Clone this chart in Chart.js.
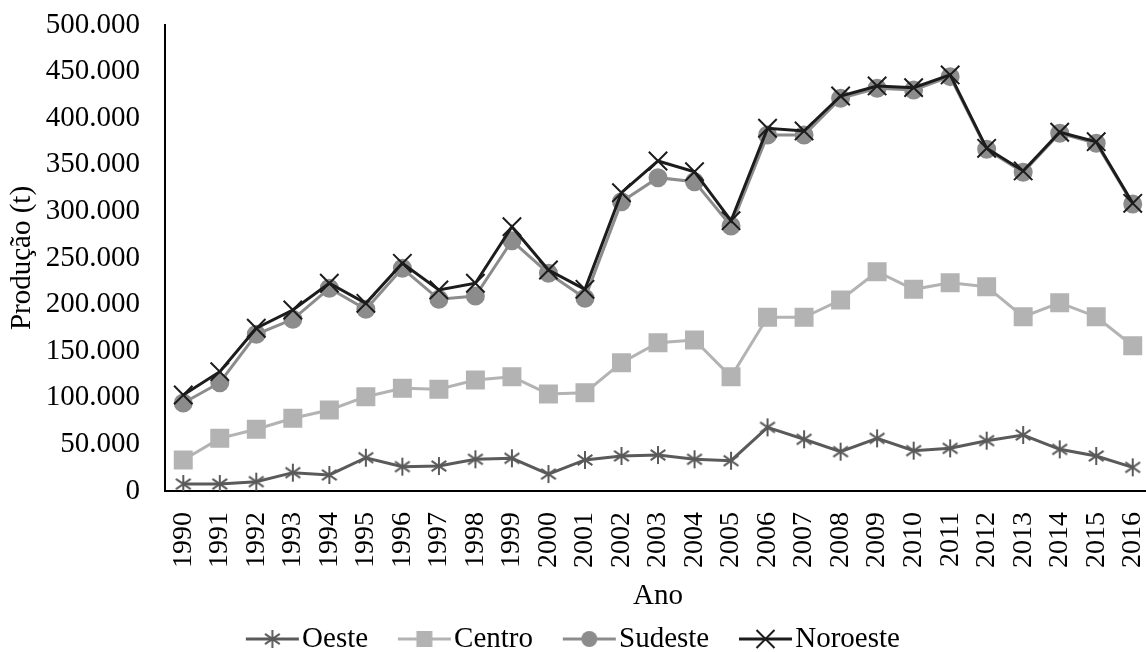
<!DOCTYPE html>
<html lang="pt">
<head>
<meta charset="utf-8">
<title>Produção por região</title>
<script src="https://cdn.jsdelivr.net/npm/chart.js@4/dist/chart.umd.min.js"></script>
<style>
  html, body { margin: 0; padding: 0; background: #fff; overflow: hidden; }
  #wrap { position: relative; width: 1166px; height: 652px; }
</style>
</head>
<body>
<div id="wrap"><canvas id="grafico"></canvas></div>
<script>
// Anos (eixo das categorias)
const anos = ['1990','1991','1992','1993','1994','1995','1996','1997','1998','1999',
              '2000','2001','2002','2003','2004','2005','2006','2007','2008','2009',
              '2010','2011','2012','2013','2014','2015','2016'];

// Produção (t) por região
const oeste    = [7500, 7500, 10000, 19700, 17200, 35700, 26100, 26800, 34000, 35100,
                  18200, 33300, 37600, 38600, 34000, 32500, 68300, 55500, 42200, 56500,
                  43300, 45800, 54000, 60100, 44700, 37600, 25400];
const centro   = [33300, 56500, 66200, 78000, 86900, 101200, 110200, 109100, 119100, 122600,
                  104100, 105500, 137700, 159100, 162000, 122600, 186400, 186400, 204900, 235300,
                  216400, 223500, 219200, 187000, 202000, 187000, 155900];
const sudeste  = [94400, 116200, 168100, 184200, 217500, 195000, 239000, 205700, 209200, 268500,
                  233600, 206800, 310400, 336200, 331900, 284300, 382000, 382000, 421300, 432100,
                  430300, 444600, 366600, 342000, 383800, 373100, 308000];
const noroeste = [103000, 128000, 174600, 194200, 222900, 201400, 244300, 215700, 222900, 283600,
                  237100, 216400, 320100, 354100, 342600, 290000, 389200, 386300, 423800, 434600,
                  432800, 446400, 367700, 343400, 384900, 374800, 308700];

// Marcas do eixo Y
const yMin = 0, yMax = 500000, yPasso = 50000;

const FONTE = "'Liberation Serif', 'Times New Roman', serif";

// Separador de milhar com ponto
function milhar(v) {
  return String(Math.round(v)).replace(/\B(?=(\d{3})+(?!\d))/g, '.');
}

// Desenha um marcador num contexto, centrado em (cx, cy)
function desenhaMarcador(ctx, tipo, cx, cy, cor) {
  ctx.save();
  ctx.strokeStyle = cor;
  ctx.fillStyle = cor;
  ctx.lineWidth = 2;
  if (tipo === 'asterisco') {
    const r = 9;
    const angs = [90, 35, 145];
    ctx.beginPath();
    angs.forEach(a => {
      const rad = a * Math.PI / 180;
      const dx = Math.cos(rad) * r, dy = Math.sin(rad) * r;
      ctx.moveTo(cx - dx, cy - dy);
      ctx.lineTo(cx + dx, cy + dy);
    });
    ctx.stroke();
  } else if (tipo === 'quadrado') {
    ctx.fillRect(cx - 8, cy - 8, 16, 16);
  } else if (tipo === 'circulo') {
    ctx.beginPath();
    ctx.arc(cx, cy, 8, 0, Math.PI * 2);
    ctx.fill();
  } else if (tipo === 'xis') {
    const r = 9;
    ctx.beginPath();
    ctx.moveTo(cx - r, cy - r); ctx.lineTo(cx + r, cy + r);
    ctx.moveTo(cx - r, cy + r); ctx.lineTo(cx + r, cy - r);
    ctx.stroke();
  }
  ctx.restore();
}

// Marcador em asterisco para a série Oeste
function imagemAsterisco(cor) {
  const c = document.createElement('canvas');
  c.width = 22; c.height = 22;
  desenhaMarcador(c.getContext('2d'), 'asterisco', 11, 11, cor);
  return c;
}

// Ícone da legenda: linha com o marcador ao centro
function iconeLegenda(tipo, cor) {
  const c = document.createElement('canvas');
  c.width = 80; c.height = 24;
  const ctx = c.getContext('2d');
  ctx.strokeStyle = cor;
  ctx.lineWidth = 3;
  ctx.beginPath();
  ctx.moveTo(19, 12);
  ctx.lineTo(72, 12);
  ctx.stroke();
  desenhaMarcador(ctx, tipo, 45.5, 12, cor);
  return c;
}

const series = [
  { nome: 'Oeste',    dados: oeste,    cor: '#5a5a5a', marca: 'asterisco' },
  { nome: 'Centro',   dados: centro,   cor: '#b3b3b3', marca: 'quadrado' },
  { nome: 'Sudeste',  dados: sudeste,  cor: '#8c8c8c', marca: 'circulo' },
  { nome: 'Noroeste', dados: noroeste, cor: '#1c1c1c', marca: 'xis' }
];

const estiloPonto = {
  asterisco: { pointStyle: imagemAsterisco('#5a5a5a'), pointRadius: 9 },
  quadrado:  { pointStyle: 'rect', pointRadius: 12 },
  circulo:   { pointStyle: 'circle', pointRadius: 8.5 },
  xis:       { pointStyle: 'crossRot', pointRadius: 13 }
};

// Noroeste desenhada por cima das restantes
const ordem = { Oeste: 3, Centro: 2, Sudeste: 1, Noroeste: 0 };

const datasets = series.map(s => Object.assign({
  label: s.nome,
  data: s.dados,
  borderColor: s.cor,
  backgroundColor: s.cor,
  pointBackgroundColor: s.cor,
  pointBorderColor: s.cor,
  pointBorderWidth: 2,
  borderWidth: 3,
  tension: 0,
  order: ordem[s.nome]
}, estiloPonto[s.marca]));

const fonte = { family: FONTE, size: 29, lineHeight: 1 };
const fonteAnos = { family: FONTE, size: 28, lineHeight: 1 };

new Chart(document.getElementById('grafico'), {
  type: 'line',
  data: { labels: anos, datasets },
  options: {
    responsive: true,
    maintainAspectRatio: false,
    animation: false,
    layout: { padding: { top: 25, left: -20, right: 0, bottom: -11.5 } },
    plugins: {
      tooltip: { enabled: false },
      legend: {
        position: 'bottom',
        labels: {
          usePointStyle: true,
          pointStyleWidth: 41.5,
          padding: 30,
          color: '#000',
          font: fonte,
          generateLabels() {
            return series.map((s, i) => ({
              text: s.nome,
              pointStyle: iconeLegenda(s.marca, s.cor),
              fillStyle: 'rgba(0,0,0,0)',
              strokeStyle: 'rgba(0,0,0,0)',
              lineWidth: 0,
              fontColor: '#000',
              hidden: false,
              datasetIndex: i
            }));
          }
        }
      }
    },
    scales: {
      x: {
        offset: true,
        grid: { display: false, drawTicks: false },
        border: { display: true, color: '#000', width: 2 },
        ticks: {
          color: '#000',
          font: fonteAnos,
          minRotation: 90,
          maxRotation: 90,
          autoSkip: false,
          padding: 21
        },
        title: { display: true, text: 'Ano', color: '#000', font: fonte, padding: { top: 0, bottom: -16 } },
        afterFit(s) {
          s.height = 103.5;
          s.paddingLeft = 0;
          s.paddingRight = 0;
        }
      },
      y: {
        min: yMin,
        max: yMax,
        grid: { display: false, drawTicks: false },
        border: { display: true, color: '#000', width: 2 },
        ticks: {
          stepSize: yPasso,
          color: '#000',
          font: fonte,
          padding: 25,
          callback: v => milhar(v)
        },
        title: { display: true, text: 'Produção (t)', color: '#000', font: fonte, padding: { top: 28, bottom: 0 } },
        afterFit(s) {
          s.width = 185;
          s.paddingTop = 0;
          s.paddingBottom = 0;
        }
      }
    }
  }
});
</script>
</body>
</html>
